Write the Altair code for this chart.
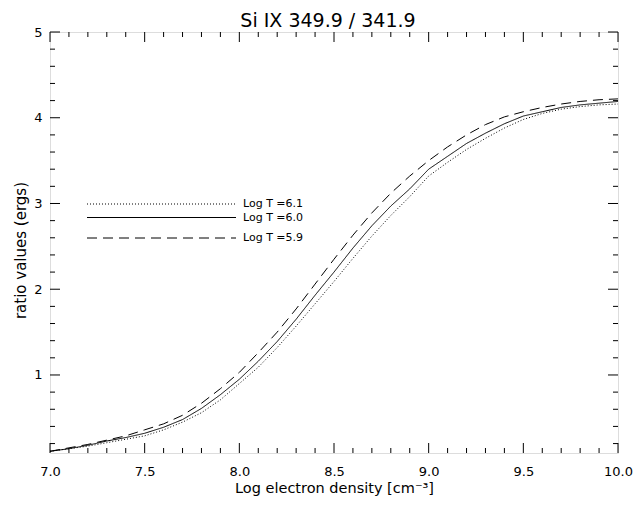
import pandas as pd
import altair as alt

# density grid (log cm^-3)
log_ne = [7.0, 7.1, 7.2, 7.3, 7.4, 7.5, 7.6, 7.7, 7.8, 7.9,
          8.0, 8.1, 8.2, 8.3, 8.4, 8.5, 8.6, 8.7, 8.8, 8.9,
          9.0, 9.1, 9.2, 9.3, 9.4, 9.5, 9.6, 9.7, 9.8, 9.9, 10.0]

# ratio values
ratio_61 = [0.11, 0.14, 0.17, 0.21, 0.25, 0.29, 0.36, 0.45, 0.56, 0.71,
            0.90, 1.09, 1.32, 1.57, 1.83, 2.09, 2.36, 2.62, 2.86, 3.08,
            3.32, 3.48, 3.63, 3.76, 3.88, 3.98, 4.05, 4.10, 4.13, 4.15, 4.16]
ratio_60 = [0.11, 0.14, 0.18, 0.23, 0.27, 0.32, 0.39, 0.48, 0.61, 0.77,
            0.95, 1.16, 1.39, 1.65, 1.93, 2.20, 2.48, 2.74, 2.97, 3.17,
            3.40, 3.55, 3.70, 3.82, 3.93, 4.02, 4.07, 4.12, 4.15, 4.17, 4.19]
ratio_59 = [0.11, 0.15, 0.19, 0.24, 0.29, 0.36, 0.43, 0.53, 0.67, 0.84,
            1.03, 1.26, 1.50, 1.77, 2.06, 2.35, 2.63, 2.89, 3.12, 3.32,
            3.50, 3.66, 3.80, 3.92, 4.01, 4.07, 4.12, 4.16, 4.19, 4.21, 4.22]

series_names = ["6.1", "6.0", "5.9"]
legend_labels = ["Log T =6.1", "Log T =6.0", "Log T =5.9"]
plot_title = "Si IX 349.9 / 341.9"
x_title = "Log electron density [cm⁻³]"
y_title = "ratio values (ergs)"

x_major = [7.0, 7.5, 8.0, 8.5, 9.0, 9.5, 10.0]
x_minor = [7.1, 7.2, 7.3, 7.4, 7.6, 7.7, 7.8, 7.9, 8.1, 8.2, 8.3, 8.4,
           8.6, 8.7, 8.8, 8.9, 9.1, 9.2, 9.3, 9.4, 9.6, 9.7, 9.8, 9.9]
y_major = [1, 2, 3, 4, 5]
y_minor = [0.2, 0.4, 0.6, 0.8, 1.2, 1.4, 1.6, 1.8, 2.2, 2.4, 2.6, 2.8,
           3.2, 3.4, 3.6, 3.8, 4.2, 4.4, 4.6, 4.8]

W, H = 568, 421
FONT = "DejaVu Sans"

frames = []
for name, vals in zip(series_names, [ratio_61, ratio_60, ratio_59]):
    frames.append(pd.DataFrame({"logne": log_ne, "ratio": vals, "logT": name}))
data = pd.concat(frames)

xs = alt.Scale(domain=[7.0, 10.0], nice=False, zero=False)
ys = alt.Scale(domain=[0.09, 5.0], nice=False, zero=False)
dash = alt.Scale(domain=series_names, range=[[1, 2], [1, 0], [10, 6]])

# same axis objects on every layer so that Vega-Lite merges them into one
x_axis = alt.Axis(values=x_major, format=".1f", ticks=False, domain=False,
                  grid=False, labelFont=FONT, labelFontSize=13, labelFlush=False,
                  labelPadding=12, labelColor="black",
                  titleFont=FONT, titleFontSize=14.5, titleFontWeight="normal",
                  titleColor="black", titlePadding=3)
y_axis = alt.Axis(values=y_major, format="d", ticks=False, domain=False,
                  grid=False, labelFont=FONT, labelFontSize=13, labelFlush=False,
                  labelPadding=8, labelColor="black",
                  titleFont=FONT, titleFontSize=15, titleFontWeight="normal",
                  titleColor="black", titleAngle=270, titleAlign="center",
                  titleBaseline="middle", titleX=-30, titleY=218)


def X(field):
    return alt.X(field, scale=xs, title=x_title, axis=x_axis)


def Y(field):
    return alt.Y(field, scale=ys, title=y_title, axis=y_axis)


lines = alt.Chart(data).mark_line(color="black", strokeWidth=1).encode(
    x=X("logne:Q"),
    y=Y("ratio:Q"),
    strokeDash=alt.StrokeDash("logT:N", scale=dash, legend=None),
    detail="logT:N",
)


# inward ticks on all four sides, IDL style
def xticks(vals, size):
    df = pd.DataFrame({"v": vals})
    bottom = alt.Chart(df).mark_rule(color="black").encode(
        x=X("v:Q"), y=alt.value(H), y2=alt.value(H - size))
    top = alt.Chart(df).mark_rule(color="black").encode(
        x=X("v:Q"), y=alt.value(0), y2=alt.value(size))
    return [bottom, top]


def yticks(vals, size):
    df = pd.DataFrame({"v": vals})
    left = alt.Chart(df).mark_rule(color="black").encode(
        y=Y("v:Q"), x=alt.value(0), x2=alt.value(size))
    right = alt.Chart(df).mark_rule(color="black").encode(
        y=Y("v:Q"), x=alt.value(W), x2=alt.value(W - size))
    return [left, right]


ticks = xticks(x_major, 10) + xticks(x_minor, 5) + yticks(y_major, 10) + yticks(y_minor, 5)

# legend drawn inside the plot, one row per temperature
leg_rows = [172, 185.5, 206]
legend = []
for name, label, row in zip(series_names, legend_labels, leg_rows):
    df = pd.DataFrame({"logT": [name], "label": [label]})
    legend.append(alt.Chart(df).mark_rule(color="black", strokeWidth=1).encode(
        x=alt.value(37), x2=alt.value(186), y=alt.value(row),
        strokeDash=alt.StrokeDash("logT:N", scale=dash, legend=None)))
    legend.append(alt.Chart(df).mark_text(align="left", baseline="middle", font=FONT,
                                          fontSize=11, color="black").encode(
        x=alt.value(193), y=alt.value(row), text="label:N"))

title = alt.Chart(pd.DataFrame({"t": [plot_title]})).mark_text(
    align="center", baseline="alphabetic", font=FONT, fontSize=19, color="black"
).encode(x=alt.value(278), y=alt.value(-5), text="t:N")

chart = alt.layer(lines, *ticks, *legend, title).properties(
    width=W, height=H,
    padding={"left": 42, "top": 24, "right": 17, "bottom": 45},
    autosize="none",
).configure_view(stroke="black", strokeWidth=1).configure(background="white")

chart.save("out.html", embed_options={"renderer": "svg", "actions": False})
